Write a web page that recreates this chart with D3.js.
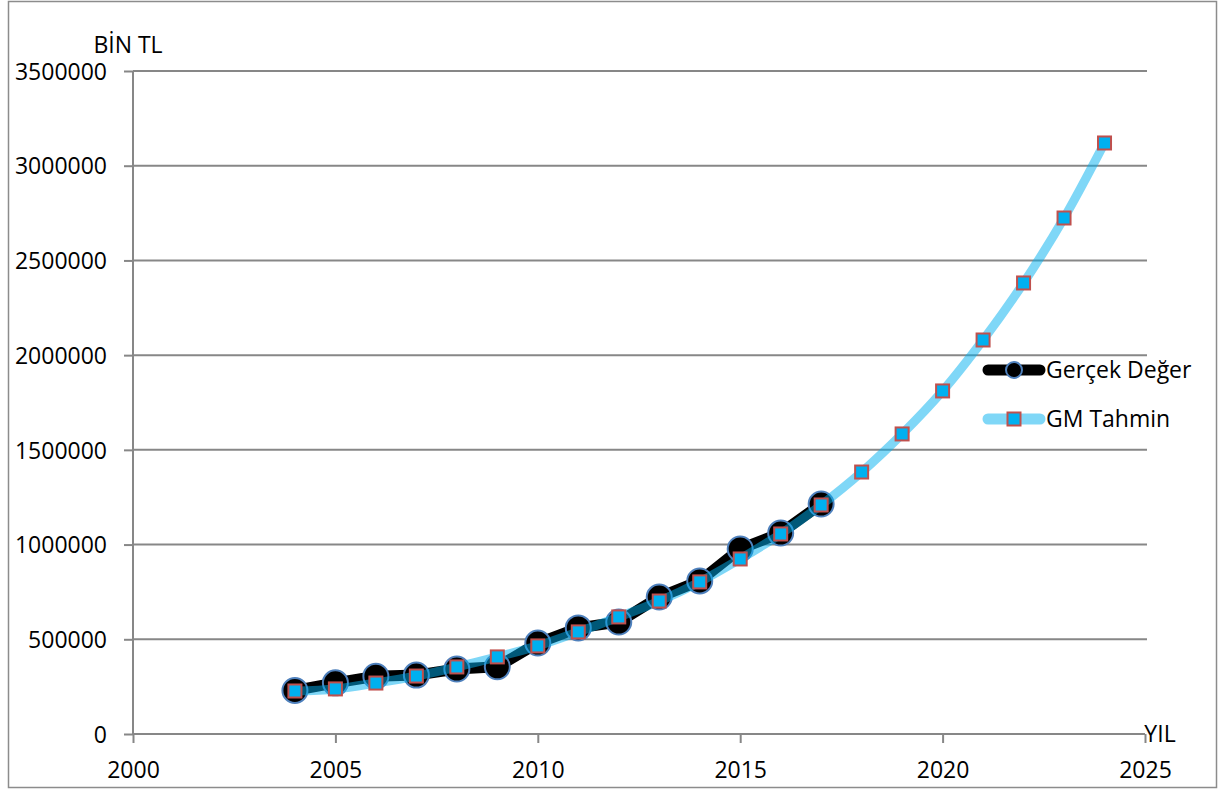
<!DOCTYPE html>
<html>
<head>
<meta charset="utf-8">
<script src="https://cdn.jsdelivr.net/npm/d3@7"></script>
<style>
  html, body { margin: 0; padding: 0; background: #fff; }
  svg { display: block; }
  text { font-family: "Open Sans", "Noto Sans", sans-serif; fill: #000; }
</style>
</head>
<body>
<svg id="chart" width="1219" height="790"></svg>
<script>
// Yearly values (thousand TL)
const actualYears = [2004, 2005, 2006, 2007, 2008, 2009, 2010, 2011, 2012, 2013, 2014, 2015, 2016, 2017];
const actualValues = [230000, 270000, 305000, 311000, 343000, 355000, 480000, 560000, 591000, 723000, 808000, 977000, 1061000, 1214000];

const forecastYears = [2004, 2005, 2006, 2007, 2008, 2009, 2010, 2011, 2012, 2013, 2014, 2015, 2016, 2017, 2018, 2019, 2020, 2021, 2022, 2023, 2024];
const forecastValues = [227000, 238000, 269000, 306000, 354000, 407000, 465000, 539000, 618000, 702000, 803000, 924000, 1056000, 1209000, 1383000, 1584000, 1811000, 2080000, 2381000, 2724000, 3120000];

const xTicks = [2000, 2005, 2010, 2015, 2020, 2025];
const yTicks = [0, 500000, 1000000, 1500000, 2000000, 2500000, 3000000, 3500000];

const seriesNames = ["Gerçek Değer", "GM Tahmin"];

const svg = d3.select("#chart");
const gridColor = "#878787";
const fontSize = "23px";

// outer frame
svg.append("rect")
  .attr("x", 8.5).attr("y", 1.5)
  .attr("width", 1208).attr("height", 786)
  .attr("fill", "#fff").attr("stroke", "#8c8c8c").attr("stroke-width", 1.5);

const x = d3.scaleLinear().domain([2000, 2025]).range([133, 1145]);
const y = d3.scaleLinear().domain([0, 3500000]).range([734, 71]);

// y axis labels and outward tick marks
const yAxis = d3.axisLeft(y).tickValues(yTicks).tickSize(9).tickFormat(d3.format("d"));
const gy = svg.append("g").attr("transform", `translate(${x(2000)},0)`).call(yAxis);
gy.select(".domain").remove();
gy.selectAll(".tick line").attr("stroke", gridColor).attr("stroke-width", 2);
gy.selectAll(".tick text")
  .attr("x", -26).attr("dy", "0.36em")
  .style("font-size", fontSize).style("font-family", "'Open Sans', sans-serif");

// horizontal gridlines
svg.append("g").selectAll("line.grid")
  .data(yTicks.filter(d => d > 0))
  .join("line")
  .attr("x1", x(2000)).attr("x2", 1147)
  .attr("y1", d => y(d)).attr("y2", d => y(d))
  .attr("stroke", gridColor).attr("stroke-width", 2);

// vertical axis line
svg.append("line")
  .attr("x1", x(2000)).attr("x2", x(2000))
  .attr("y1", y(3500000)).attr("y2", y(0))
  .attr("stroke", gridColor).attr("stroke-width", 2);

// x axis
const xAxis = d3.axisBottom(x).tickValues(xTicks).tickSize(9).tickFormat(d3.format("d"));
const gx = svg.append("g").attr("transform", `translate(0,${y(0)})`).call(xAxis);
gx.select(".domain").attr("stroke", gridColor).attr("stroke-width", 2).attr("d", `M${x(2000)},0H${x(2025)}`);
gx.selectAll(".tick line").attr("stroke", gridColor).attr("stroke-width", 2);
gx.selectAll(".tick text")
  .attr("y", 36).attr("dy", "0.36em")
  .style("font-size", fontSize).style("font-family", "'Open Sans', sans-serif");

// axis titles
svg.append("text").attr("x", 128).attr("y", 53).attr("text-anchor", "middle")
  .style("font-size", fontSize).text("BİN TL");
svg.append("text").attr("x", 1160).attr("y", 742).attr("text-anchor", "middle")
  .style("font-size", fontSize).text("YIL");

const actual = actualYears.map((yr, i) => ({ yr, v: actualValues[i] }));
const forecast = forecastYears.map((yr, i) => ({ yr, v: forecastValues[i] }));

// actual series: thick black polyline with circle markers
svg.append("path")
  .datum(actual)
  .attr("d", d3.line().x(d => x(d.yr)).y(d => y(d.v)))
  .attr("fill", "none").attr("stroke", "#000").attr("stroke-width", 11)
  .attr("stroke-linejoin", "round").attr("stroke-linecap", "round");

svg.append("g").selectAll("circle")
  .data(actual)
  .join("circle")
  .attr("cx", d => x(d.yr)).attr("cy", d => y(d.v)).attr("r", 12.5)
  .attr("fill", "#000").attr("stroke", "#4F81BD").attr("stroke-width", 2);

// forecast series: translucent smooth curve with square markers
svg.append("path")
  .datum(forecast)
  .attr("d", d3.line().x(d => x(d.yr)).y(d => y(d.v)).curve(d3.curveCatmullRom.alpha(0.5)))
  .attr("fill", "none").attr("stroke", "#00B0F0").attr("stroke-opacity", 0.5)
  .attr("stroke-width", 9).attr("stroke-linecap", "round");

const sq = 13;
svg.append("g").selectAll("rect")
  .data(forecast)
  .join("rect")
  .attr("x", d => x(d.yr) - sq / 2).attr("y", d => y(d.v) - sq / 2)
  .attr("width", sq).attr("height", sq)
  .attr("fill", "#00B0F0").attr("stroke", "#C0504D").attr("stroke-width", 2);

// legend
const lg = svg.append("g");
const lx0 = 988, lx1 = 1040, lyA = 370, lyB = 419;
lg.append("line").attr("x1", lx0).attr("x2", lx1).attr("y1", lyA).attr("y2", lyA)
  .attr("stroke", "#000").attr("stroke-width", 11).attr("stroke-linecap", "round");
lg.append("circle").attr("cx", (lx0 + lx1) / 2).attr("cy", lyA).attr("r", 8)
  .attr("fill", "#000").attr("stroke", "#4F81BD").attr("stroke-width", 2);
lg.append("text").attr("x", 1046).attr("y", lyA).attr("dy", "0.36em")
  .style("font-size", fontSize).text(seriesNames[0]);

lg.append("line").attr("x1", lx0).attr("x2", lx1).attr("y1", lyB).attr("y2", lyB)
  .attr("stroke", "#00B0F0").attr("stroke-opacity", 0.5).attr("stroke-width", 11).attr("stroke-linecap", "round");
lg.append("rect").attr("x", (lx0 + lx1) / 2 - sq / 2).attr("y", lyB - sq / 2).attr("width", sq).attr("height", sq)
  .attr("fill", "#00B0F0").attr("stroke", "#C0504D").attr("stroke-width", 2);
lg.append("text").attr("x", 1046).attr("y", lyB).attr("dy", "0.36em")
  .style("font-size", fontSize).text(seriesNames[1]);
</script>
</body>
</html>
